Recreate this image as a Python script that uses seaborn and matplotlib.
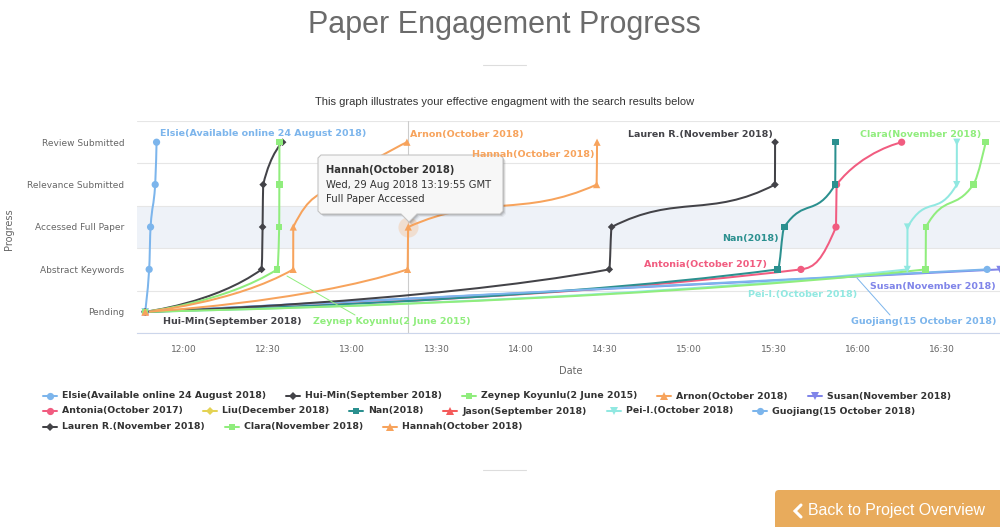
import matplotlib
matplotlib.use("Agg")
import matplotlib.pyplot as plt
import matplotlib.dates as mdates
from matplotlib.path import Path
from matplotlib.patches import PathPatch, FancyBboxPatch, Polygon
from matplotlib.lines import Line2D
from matplotlib.markers import MarkerStyle
from matplotlib.transforms import Affine2D, IdentityTransform
import seaborn as sns
import numpy as np
import pandas as pd

W, H = 1000, 527
DAY = "2018-08-29 "

levels = ["Pending", "Abstract Keywords", "Accessed Full Paper",
          "Relevance Submitted", "Review Submitted"]

series_names = [
    "Elsie(Available online 24 August 2018)",
    "Hui-Min(September 2018)",
    "Zeynep Koyunlu(2 June 2015)",
    "Arnon(October 2018)",
    "Susan(November 2018)",
    "Antonia(October 2017)",
    "Liu(December 2018)",
    "Nan(2018)",
    "Jason(September 2018)",
    "Pei-I.(October 2018)",
    "Guojiang(15 October 2018)",
    "Lauren R.(November 2018)",
    "Clara(November 2018)",
    "Hannah(October 2018)",
]
series_colors = ["#7cb5ec", "#434348", "#90ed7d", "#f7a35c", "#8085e9",
                 "#f15c80", "#e4d354", "#2b908f", "#f45b5b", "#91e8e1",
                 "#7cb5ec", "#434348", "#90ed7d", "#f7a35c"]
series_symbols = ["circle", "diamond", "square", "triangle", "triangle-down"] * 3

# time of each step reached (Pending, Abstract, Accessed, Relevance, Review)
elsie = ["11:46:13", "11:47:38", "11:48:08", "11:49:47", "11:50:16"]
hui_min = ["11:46:13", "12:27:41", "12:28:02", "12:28:15", "12:35:10"]
zeynep = ["11:46:13", "12:33:14", "12:33:57", "12:34:00", "12:34:02"]
arnon = ["11:46:13", "12:38:56", "12:38:58", "12:53:47", "13:19:27"]
susan = ["11:46:13", "16:50:40"]
antonia = ["11:46:13", "15:39:48", "15:52:17", "15:52:30", "16:15:40"]
liu = ["11:46:13"]
nan = ["11:46:13", "15:31:30", "15:33:52", "15:52:00", "15:52:05"]
jason = ["11:46:13"]
pei_i = ["11:46:13", "16:17:41", "16:17:45", "16:35:17", "16:35:20"]
guojiang = ["11:46:13", "16:46:07"]
lauren = ["11:46:13", "14:31:31", "14:32:22", "15:30:32", "15:30:35"]
clara = ["11:46:13", "16:24:14", "16:24:18", "16:41:12", "16:45:35"]
hannah = ["11:46:13", "13:19:40", "13:19:55", "14:27:01", "14:27:10"]

series_steps = [elsie, hui_min, zeynep, arnon, susan, antonia, liu, nan,
                jason, pei_i, guojiang, lauren, clara, hannah]

x_start, x_end = "11:43:18", "16:50:42"

# series label positions (pixels) and legend rows
label_pos = {
    0: (160, 134), 1: (163, 321), 2: (313, 322), 3: (410, 134),
    4: (870, 286), 5: (644, 264), 7: (722, 238), 9: (748, 294),
    10: (851, 322), 11: (628, 134), 12: (860, 134), 13: (472, 154),
}
legend_rows = [[0, 1, 2, 3, 4], [5, 6, 7, 8, 9, 10], [11, 12, 13]]
legend_y = [396, 411, 427]


def marker_style(symbol):
    if symbol == "circle":
        return MarkerStyle("o")
    if symbol == "square":
        return MarkerStyle("s", transform=Affine2D().scale(0.9))
    if symbol == "triangle":
        return MarkerStyle("^")
    if symbol == "triangle-down":
        return MarkerStyle("v")
    return MarkerStyle("D", transform=Affine2D().scale(0.75))


def spline_path(xs, ys, smoothing=1.5):
    """Highcharts-like spline through the points as cubic Bezier segments."""
    denom = smoothing + 1
    n = len(xs)
    right = {}
    verts = [(xs[0], ys[0])]
    codes = [Path.MOVETO]
    for i in range(1, n):
        x, y = xs[i], ys[i]
        lx, ly = x, y
        if i < n - 1:
            px, py = xs[i - 1], ys[i - 1]
            nx, ny = xs[i + 1], ys[i + 1]
            lx = (smoothing * x + px) / denom
            ly = (smoothing * y + py) / denom
            rx = (smoothing * x + nx) / denom
            ry = (smoothing * y + ny) / denom
            corr = 0.0
            if rx != lx:
                corr = (ry - ly) * (rx - x) / (rx - lx) + y - ry
            ly += corr
            ry += corr
            if ly > py and ly > y:
                ly = max(py, y)
                ry = 2 * y - ly
            elif ly < py and ly < y:
                ly = min(py, y)
                ry = 2 * y - ly
            if ry > ny and ry > y:
                ry = max(ny, y)
                ly = 2 * y - ry
            elif ry < ny and ry < y:
                ry = min(ny, y)
                ly = 2 * y - ry
            right[i] = (rx, ry)
        c1 = right.get(i - 1, (xs[i - 1], ys[i - 1]))
        verts += [c1, (lx, ly), (x, y)]
        codes += [Path.CURVE4] * 3
    return Path(verts, codes)


rows = []
for name, steps in zip(series_names, series_steps):
    for lvl, t in enumerate(steps):
        rows.append((name, pd.Timestamp(DAY + t), lvl))
df = pd.DataFrame(rows, columns=["series", "time", "level"])

sns.set_style("white")
plt.rcParams["font.family"] = ["DejaVu Sans"]

fig = plt.figure(figsize=(W / 100, H / 100), dpi=100)
ax = fig.add_axes([137 / W, 1 - 333 / H, 863 / W, 212 / H])

palette = dict(zip(series_names, series_colors))
markers = {n: marker_style(s) for n, s in zip(series_names, series_symbols)}

ax.axhspan(1.5, 2.5, color="#eef2f8", zorder=0, lw=0)

sns.scatterplot(data=df, x="time", y="level", hue="series", style="series",
                hue_order=series_names, style_order=series_names,
                palette=palette, markers=markers, s=27, linewidth=0,
                legend=False, ax=ax, zorder=3)

for i, (name, steps) in enumerate(zip(series_names, series_steps)):
    if len(steps) < 2:
        continue
    xs = mdates.date2num(pd.to_datetime([DAY + t for t in steps]))
    ys = np.arange(len(steps), dtype=float)
    ax.add_patch(PathPatch(spline_path(xs, ys), facecolor="none",
                           edgecolor=series_colors[i], lw=1.45,
                           zorder=2 + i * 0.01, capstyle="round",
                           joinstyle="round"))

# hovered point: Hannah, Full Paper Accessed
hover_t = pd.Timestamp(DAY + hannah[2])
ax.axvline(hover_t, color="#cccccc", lw=0.8, zorder=1)
ax.scatter([hover_t], [2], s=210, color="#f7a35c", alpha=0.25, lw=0, zorder=4)

ax.set_xlim(pd.Timestamp(DAY + x_start), pd.Timestamp(DAY + x_end))
ax.set_ylim(-0.5, 4.5)
ax.set_yticks(range(len(levels)), levels)
ax.set_yticks(np.arange(-0.5, 5, 1.0), minor=True)
ax.grid(False)
ax.grid(True, which="minor", axis="y", color="#e6e6e6", lw=0.8)
ax.tick_params(axis="y", which="both", length=0, pad=9, labelsize=6.5,
               labelcolor="#666666")
ax.xaxis.set_major_locator(mdates.MinuteLocator(byminute=[0, 30]))
ax.xaxis.set_major_formatter(mdates.DateFormatter("%H:%M"))
ax.tick_params(axis="x", length=7, width=0.8, color="#ccd6eb", pad=1.5,
               labelsize=6.5, labelcolor="#666666")
for side in ["left", "right", "top"]:
    ax.spines[side].set_visible(False)
ax.spines["bottom"].set_color("#ccd6eb")
ax.spines["bottom"].set_linewidth(0.8)
ax.set_xlabel("Date", fontsize=7, color="#666666")
ax.set_ylabel("Progress", fontsize=7, color="#666666")
ax.xaxis.set_label_coords((571 - 137) / 863, (333 - 366) / 212)
ax.yaxis.set_label_coords((14 - 137) / 863, (333 - 229) / 212)

px = IdentityTransform()

# series labels
for i, (x, y) in label_pos.items():
    fig.text(x, H - y, series_names[i], transform=px, fontsize=6.8,
             fontweight="bold", color=series_colors[i], va="center")
fig.add_artist(Line2D([287, 355], [H - 276, H - 315], transform=px,
                      color="#90ed7d", lw=0.7))
fig.add_artist(Line2D([857, 890], [H - 278, H - 315], transform=px,
                      color="#7cb5ec", lw=0.7))

# tooltip
tip = [(321, 155), (500, 155), (503, 158), (503, 211), (500, 214),
       (417, 214), (409, 222), (401, 214), (321, 214), (318, 211),
       (318, 158)]
for k in range(1, 4):
    fig.add_artist(Polygon([(x + k, H - y - k) for x, y in tip], closed=True,
                           transform=px, fc="black", ec="none",
                           alpha=0.05 * (4 - k)))
fig.add_artist(Polygon([(x, H - y) for x, y in tip], closed=True,
                       transform=px, fc="#f7f7f7", ec="#c4c4c4", lw=0.8))
fig.text(326, H - 170, series_names[13], transform=px, fontsize=7.2,
         fontweight="bold", color="#333333", va="center")
fig.text(326, H - 185, "Wed, 29 Aug 2018 13:19:55 GMT", transform=px,
         fontsize=7.2, color="#333333", va="center")
fig.text(326, H - 199, "Full Paper Accessed", transform=px, fontsize=7.2,
         color="#333333", va="center")

# legend
renderer = fig.canvas.get_renderer()
for row, y in zip(legend_rows, legend_y):
    x = 43
    for i in row:
        c = series_colors[i]
        fig.add_artist(Line2D([x, x + 14], [H - y, H - y], transform=px,
                              color=c, lw=1.45))
        fig.add_artist(Line2D([x + 7], [H - y], transform=px, color=c,
                              marker=marker_style(series_symbols[i]),
                              ms=5.2, mew=0, ls="none"))
        t = fig.text(x + 19, H - y, series_names[i], transform=px,
                     fontsize=6.75, fontweight="bold", color="#333333",
                     va="center")
        x += 19 + t.get_window_extent(renderer).width + 20

# page furniture
fig.text(504, H - 25, "Paper Engagement Progress", transform=px,
         family="Liberation Sans", fontsize=22, color="#6b6b6b",
         ha="center", va="center")
fig.add_artist(Line2D([483, 526], [H - 65, H - 65], transform=px,
                      color="#dddddd", lw=0.8))
fig.text(505, H - 102, "This graph illustrates your effective engagment "
         "with the search results below", transform=px,
         family="Liberation Sans", fontsize=8, color="#333333",
         ha="center", va="center")
fig.add_artist(Line2D([483, 526], [H - 470, H - 470], transform=px,
                      color="#dddddd", lw=0.8))

fig.add_artist(FancyBboxPatch((775, H - 534), 240, 44,
                              boxstyle="round,pad=0,rounding_size=4",
                              transform=px, fc="#e8ab5c", ec="none"))
fig.add_artist(Line2D([801, 795, 801], [H - 505, H - 511, H - 517],
                      transform=px, color="white", lw=2.2,
                      solid_joinstyle="miter"))
fig.text(808, H - 511, "Back to Project Overview", transform=px,
         family="Liberation Sans", fontsize=11.4, color="white", va="center")

fig.savefig("out.png", dpi=100)
